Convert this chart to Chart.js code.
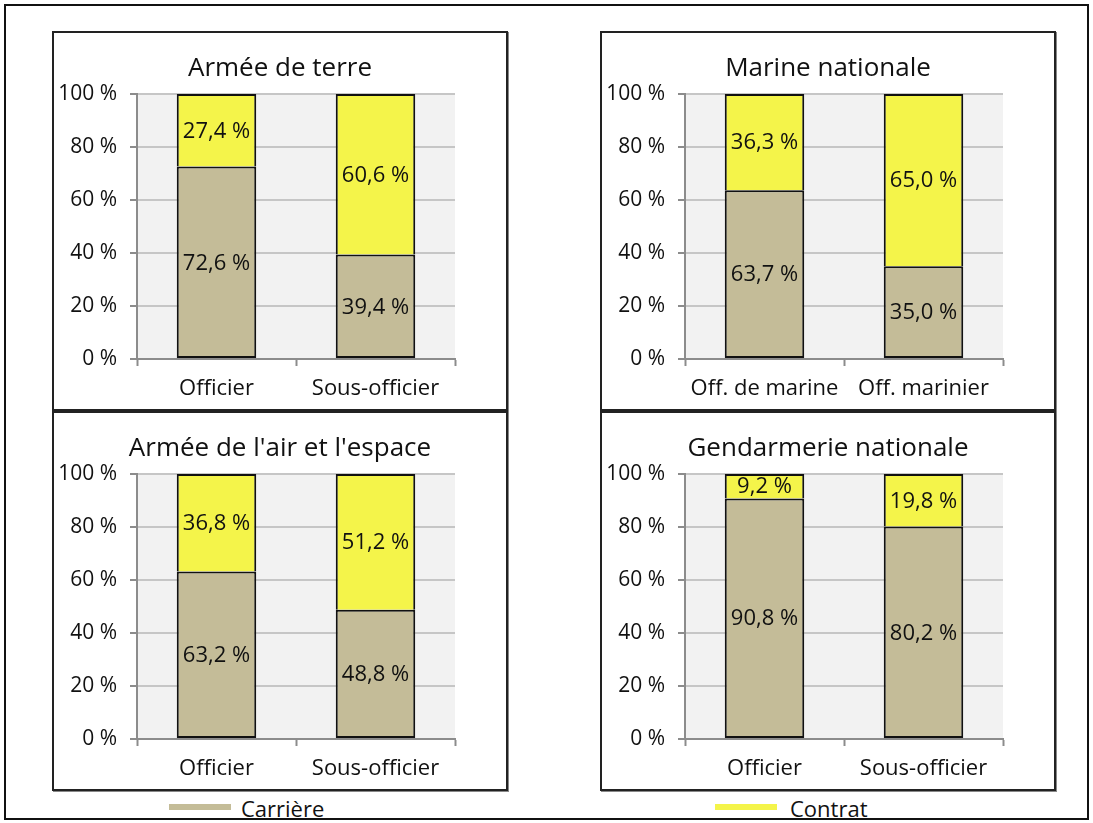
<!DOCTYPE html>
<html lang="fr">
<head>
<meta charset="utf-8">
<script src="https://cdn.jsdelivr.net/npm/chart.js@4.4.1/dist/chart.umd.min.js"></script>
<style>
  html, body { margin:0; padding:0; background:#fff; }
  body { width:1093px; height:823px; position:relative; overflow:hidden; font-family:"Open Sans", sans-serif; }
  #frame { position:absolute; left:4px; top:4px; width:1085px; height:816px; box-sizing:border-box; border:2px solid #111; }
  .panel { position:absolute; width:456px; height:380px; box-sizing:border-box; border:2px solid #222; box-shadow: 1px 1px 0 #888; background:#fff; }
  .panel canvas { position:absolute; left:0; top:0; }
  .leg { position:absolute; top:793px; font-size:22px; color:#111; line-height:30px; }
  .leg .sw { position:absolute; top:11px; width:62px; height:6px; }
  .leg .tx { position:absolute; white-space:nowrap; }
</style>
</head>
<body>
<div id="frame"></div>
<div class="panel" style="left:52px; top:31px;"><canvas id="c0" width="452" height="376"></canvas></div>
<div class="panel" style="left:600px; top:31px;"><canvas id="c1" width="452" height="376"></canvas></div>
<div class="panel" style="left:52px; top:411px;"><canvas id="c2" width="452" height="376"></canvas></div>
<div class="panel" style="left:600px; top:411px;"><canvas id="c3" width="452" height="376"></canvas></div>
<div class="leg" style="left:169px;"><span class="sw" style="left:0; background:#c4bc98;"></span><span class="tx" style="left:72px;">Carrière</span></div>
<div class="leg" style="left:715px;"><span class="sw" style="left:0; background:#f4f44a;"></span><span class="tx" style="left:75px;">Contrat</span></div>
<script>
// ---- Data ----
const panelTitles = ["Armée de terre", "Marine nationale", "Armée de l'air et l'espace", "Gendarmerie nationale"];
const categoriesTerre = ["Officier", "Sous-officier"];
const categoriesMarine = ["Off. de marine", "Off. marinier"];
const categoriesAir = ["Officier", "Sous-officier"];
const categoriesGendarmerie = ["Officier", "Sous-officier"];
const carriereTerre = [72.6, 39.4];
const contratTerre = [27.4, 60.6];
const carriereMarine = [63.7, 35.0];
const contratMarine = [36.3, 65.0];
const carriereAir = [63.2, 48.8];
const contratAir = [36.8, 51.2];
const carriereGendarmerie = [90.8, 80.2];
const contratGendarmerie = [9.2, 19.8];
const seriesNames = ["Carrière", "Contrat"];
const yTickValues = [0, 20, 40, 60, 80, 100];

// ---- Styles ----
const FONT = "'Open Sans', sans-serif";
const COL_CARRIERE = "#c4bc98";
const COL_CONTRAT = "#f4f44a";

const plotBg = {
  id: "plotBg",
  beforeDraw(chart) {
    const a = chart.chartArea, ctx = chart.ctx;
    ctx.save();
    ctx.fillStyle = "#f2f2f2";
    ctx.fillRect(a.left, a.top, a.right - a.left, a.bottom - a.top);
    ctx.restore();
  }
};

const valueLabels = {
  id: "valueLabels",
  afterDatasetsDraw(chart) {
    const ctx = chart.ctx;
    ctx.save();
    ctx.font = "22px " + FONT;
    ctx.fillStyle = "#111";
    ctx.textAlign = "center";
    ctx.textBaseline = "middle";
    chart.data.datasets.forEach((ds, di) => {
      const meta = chart.getDatasetMeta(di);
      meta.data.forEach((bar, i) => {
        const v = ds.data[i];
        const txt = v.toFixed(1).replace(".", ",") + " %";
        ctx.fillText(txt, bar.x, (bar.y + bar.base) / 2 + 1);
      });
    });
    ctx.restore();
  }
};

function makeChart(id, title, cats, carriere, contrat) {
  return new Chart(document.getElementById(id), {
    type: "bar",
    data: {
      labels: cats,
      datasets: [
        { label: seriesNames[0], data: carriere, backgroundColor: COL_CARRIERE, borderColor: "#111",
          borderWidth: { left: 2, right: 2, bottom: 2, top: 2 }, borderSkipped: false, yAxisID: "y" },
        { label: seriesNames[1], data: contrat, backgroundColor: COL_CONTRAT, borderColor: "#111",
          borderWidth: { left: 2, right: 2, top: 2, bottom: 0 }, borderSkipped: false, yAxisID: "y" }
      ]
    },
    options: {
      responsive: false,
      animation: false,
      devicePixelRatio: 1,
      datasets: { bar: { barPercentage: 1, categoryPercentage: 0.5 } },
      layout: { padding: 0 },
      plugins: {
        legend: { display: false },
        tooltip: { enabled: false },
        title: {
          display: true, text: title, color: "#111",
          font: { family: FONT, size: 26, weight: "normal", lineHeight: 1.2 },
          padding: { top: 20, bottom: 9.8 }
        }
      },
      scales: {
        x: {
          stacked: true,
          offset: true,
          grid: { display: true, drawOnChartArea: false, drawTicks: true, tickLength: 7, tickColor: "#8c8c8c", tickWidth: 2, offset: true },
          border: { display: true, color: "#8c8c8c", width: 2 },
          ticks: { color: "#111", font: { family: FONT, size: 22 }, padding: 10, maxRotation: 0, autoSkip: false },
          afterFit(s) { s.height = 50; }
        },
        y: {
          stacked: true,
          min: 0, max: 100,
          afterBuildTicks(s) { s.ticks = yTickValues.map(v => ({ value: v })); },
          grid: { color: "#c6c6c6", lineWidth: 2, drawTicks: true, tickLength: 7, tickColor: "#8c8c8c", tickWidth: 2 },
          border: { display: true, color: "#8c8c8c", width: 2 },
          ticks: { color: "#111", font: { family: FONT, size: 21 }, padding: 13, callback: v => v + " %" },
          afterFit(s) { s.width = 83; }
        },
        yRightSpace: {
          type: "linear",
          position: "right",
          display: true,
          grid: { display: false, drawTicks: false },
          border: { display: false },
          ticks: { display: false },
          afterFit(s) { s.width = 51; }
        }
      }
    },
    plugins: [plotBg, valueLabels]
  });
}

makeChart("c0", panelTitles[0], categoriesTerre, carriereTerre, contratTerre);
makeChart("c1", panelTitles[1], categoriesMarine, carriereMarine, contratMarine);
makeChart("c2", panelTitles[2], categoriesAir, carriereAir, contratAir);
makeChart("c3", panelTitles[3], categoriesGendarmerie, carriereGendarmerie, contratGendarmerie);
</script>
</body>
</html>
